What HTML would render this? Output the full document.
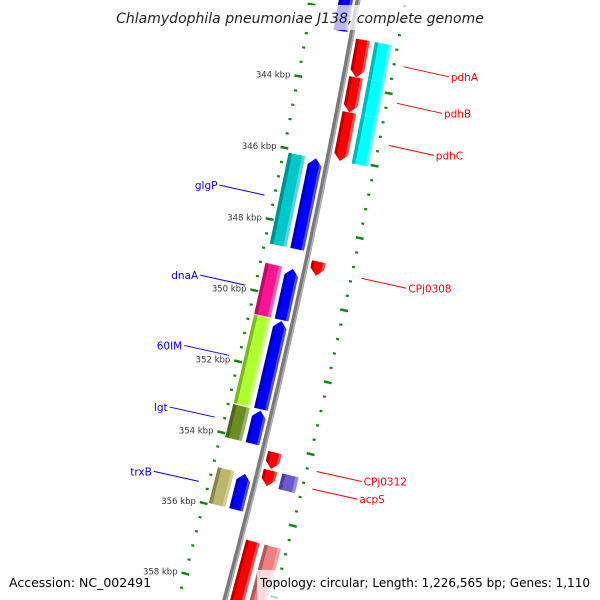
<!DOCTYPE html>
<html><head><meta charset="utf-8"><style>
html,body{margin:0;padding:0;background:#fff;width:600px;height:600px;overflow:hidden}
svg{display:block;font-family:"DejaVu Sans","Liberation Sans",sans-serif;overflow:hidden}
</style></head><body>
<svg id="map" width="600" height="600" viewBox="0 0 600 600" xmlns="http://www.w3.org/2000/svg">
<defs id="defs"><clipPath id="frame"><rect x="0" y="0" width="600" height="600"/></clipPath></defs>
<g clip-path="url(#frame)">
<g id="ticks"></g>
<g id="backbone"></g>
<g id="genes"></g>
<g id="labels"></g>
</g>
<rect x="118" y="5" width="364" height="25" fill="#fff" fill-opacity="0.72"/>
<text x="300" y="23" text-anchor="middle" font-size="14" font-style="italic" fill="#222">Chlamydophila pneumoniae J138, complete genome</text>
<rect x="257" y="570" width="343" height="30" fill="#fff" fill-opacity="0.72"/>
<text x="9" y="587" font-size="12.5" fill="#000">Accession: NC_002491</text>
<text x="260" y="587" font-size="12" fill="#000" textLength="330" lengthAdjust="spacingAndGlyphs">Topology: circular; Length: 1,226,565 bp; Genes: 1,110</text>
</svg>
<script>
// ---- data ----
const geneNames  = ["", "pdhA", "pdhB", "pdhC", "glgP", "CPj0308", "dnaA", "60IM", "lgt", "CPj0312", "acpS", "trxB", ""];
const geneStart  = [340.0, 342.70, 343.74, 344.71, 346.12, 348.86, 349.20, 350.66, 353.17, 354.19, 354.69, 354.95, 356.68];
const geneEnd    = [342.57, 343.74, 344.71, 346.06, 348.65, 349.25, 350.63, 353.13, 354.10, 354.65, 355.13, 355.96, 360.0];
const geneStrand = [-1, 1, 1, 1, -1, 1, -1, -1, -1, 1, 1, -1, 1];
const geneCog    = ["", "#00ffff", "#00ffff", "#00ffff", "#00c8c8", "", "#ff1493", "#adff2f", "#6b8e23", "", "#6a5acd", "#bdb76b", "#f08080"];
const tickStart = 339.6, tickEnd = 360.4, tickStep = 0.4, majorEvery = 2;

// ---- geometry ----
const NS = "http://www.w3.org/2000/svg";
const CX = -6692, CY = -1250, R = 7160;
const PHI0 = 12.503, K0 = 350.0, DEG_PER_KBP = 360 / 1226.565;
const PX_PER_KBP = R * DEG_PER_KBP * Math.PI / 180;
function phi(k){ return PHI0 + (k - K0) * DEG_PER_KBP; }
function pt(k, r){ const a = phi(k) * Math.PI / 180; return [CX + (R + r) * Math.cos(a), CY + (R + r) * Math.sin(a)]; }
function el(tag, attrs, parent){ const e = document.createElementNS(NS, tag); for (const a in attrs) e.setAttribute(a, attrs[a]); parent.appendChild(e); return e; }
function arcPath(r, k1, k2){ const a = pt(k1, r), b = pt(k2, r); return "M" + a[0] + "," + a[1] + " A" + (R + r) + "," + (R + r) + " 0 0 1 " + b[0] + "," + b[1]; }

const defs = document.getElementById('defs');
function shade(hex, f){
  const n = parseInt(hex.slice(1), 16); let r = n >> 16, g = (n >> 8) & 255, b = n & 255;
  if (f < 1){ r *= f; g *= f; b *= f; } else { const t = f - 1; r += (255 - r) * t; g += (255 - g) * t; b += (255 - b) * t; }
  return "rgb(" + Math.round(r) + "," + Math.round(g) + "," + Math.round(b) + ")";
}
let gradId = 0;
function grad(color){
  const id = "g" + (gradId++);
  const lg = el('linearGradient', {id: id, x1: "0", y1: "0", x2: "1", y2: "0"}, defs);
  [[0, shade(color, 0.72)], [0.2, shade(color, 0.72)], [0.22, color], [0.8, color], [0.82, shade(color, 1.3)], [1, shade(color, 1.3)]].forEach(s => {
    el('stop', {offset: s[0], 'stop-color': s[1]}, lg);
  });
  return "url(#" + id + ")";
}

// ---- backbone ----
const bb = document.getElementById('backbone');
const bbMain = el('path', {d: arcPath(0, 339, 361), fill: "none", stroke: "#7a7a7a", 'stroke-width': 5}, bb);


const bbHi = el('path', {d: arcPath(1.5, 339, 361), fill: "none", stroke: "#b0b0b0", 'stroke-width': 1.5}, bb);



// ---- ticks ----
const tg = document.getElementById('ticks');
const nTicks = Math.round((tickEnd - tickStart) / tickStep);
for (let i = 0; i <= nTicks; i++){
  const k = tickStart + i * tickStep;
  const major = Math.abs(k / majorEvery - Math.round(k / majorEvery)) < 1e-6;
  [[-45, 'left'], [47, 'right']].forEach(ring => {
    const rc = ring[0], half = major ? 4 : 1.5;
    const a = pt(k, rc - half), b = pt(k, rc + half);
    const t = el('line', {x1: a[0], y1: a[1], x2: b[0], y2: b[1], stroke: "#118811", 'stroke-width': major ? 2.5 : 2.2}, tg);
    
    
  });
  if (major){
    const p = pt(k, -53);
    if (p[1] > 12 && p[1] < 595){
      const lbl = el('text', {x: p[0], y: p[1] + 3, 'text-anchor': "end", 'font-size': "8.5", fill: "#333"}, tg);
      lbl.textContent = Math.round(k) + " kbp";
      
      
    }
  }
}

// ---- genes ----
const gg = document.getElementById('genes');
const lg = document.getElementById('labels');
for (let i = 0; i < geneNames.length; i++){
  const k1 = geneStart[i], k2 = geneEnd[i], km = (k1 + k2) / 2, s = geneStrand[i];
  const y1 = (k1 - km) * PX_PER_KBP, y2 = (k2 - km) * PX_PER_KBP;
  const g = el('g', {transform: "translate(" + CX + "," + CY + ") rotate(" + phi(km) + ")"}, gg);
  
  
  const x1 = R + (s > 0 ? 5 : -19), x2 = x1 + 14, xm = (x1 + x2) / 2;
  const h = Math.min(7, (y2 - y1) * 0.5);
  let pts;
  if (s > 0) pts = [[x1, y1], [x2, y1], [x2, y2 - h], [xm, y2], [x1, y2 - h]];
  else pts = [[xm, y1], [x2, y1 + h], [x2, y2], [x1, y2], [x1, y1 + h]];
  const arrow = el('polygon', {points: pts.map(p => p.join(",")).join(" "), fill: grad(s > 0 ? "#ff0000" : "#0000ff")}, g);
  
  
  if (geneCog[i]){
    const bx = R + (s > 0 ? 24 : -40);
    const box = el('rect', {x: bx, y: y1, width: 17, height: y2 - y1, fill: grad(geneCog[i])}, g);
    
    
  }
  if (geneNames[i]){
    const p = pt(km, s > 0 ? 57 : -55);
    const ex = p[0] + (s > 0 ? 45 : -45), ey = p[1] + (s > 0 ? 10 : -10);
    const col = s > 0 ? "#ff0000" : "#0000ff";
    const ln = el('line', {x1: p[0], y1: p[1], x2: ex, y2: ey, stroke: col, 'stroke-width': 1}, lg);
    
    
    const tx = el('text', {x: ex + (s > 0 ? 2 : -2), y: ey + 4, 'text-anchor': s > 0 ? "start" : "end", 'font-size': "10.5", fill: col}, lg);
    tx.textContent = geneNames[i];
    
    
  }
}
</script>
</body></html>
